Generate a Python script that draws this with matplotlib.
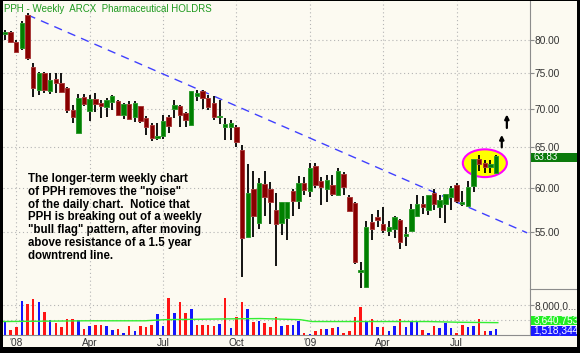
import matplotlib
matplotlib.use('Agg')
import matplotlib.pyplot as plt
import numpy as np
import pandas as pd
from matplotlib.patches import Ellipse, Rectangle
from matplotlib.ticker import FixedLocator, NullLocator, NullFormatter

plt.rcParams['font.family'] = ['Liberation Sans', 'DejaVu Sans']

# ---------------- data ----------------
week_start = pd.date_range('2007-12-17', periods=88, freq='7D')

opens = [81.0, 81.3, 79.7, 78.8, 84.0, 75.9, 72.6, 75.0, 72.4, 74.2,
         73.5, 72.9, 69.8, 66.8, 71.6, 69.7, 71.3, 70.7, 70.2, 70.9,
         71.0, 69.1, 70.6, 68.8, 70.3, 68.7, 67.8, 66.1, 66.3, 68.9,
         69.9, 70.4, 69.4, 67.8, 71.7, 72.4, 71.4, 70.7, 68.8, 67.5,
         67.5, 67.5, 64.6, 54.5, 59.9, 56.0, 60.4, 59.9, 57.5, 56.0,
         56.6, 59.6, 58.5, 60.5, 59.6, 62.6, 60.8, 59.8, 60.3, 59.1,
         61.6, 58.9, 58.2, 50.9, 49.5, 56.1, 56.7, 55.9, 55.2, 55.4,
         56.3, 54.6, 55.1, 56.8, 58.1, 57.4, 59.4, 57.8, 58.1, 58.9,
         60.3, 58.1, 57.9, 60.2, 63.4, 63.0, 62.5, 61.8]
highs = [81.6, 81.4, 80.0, 83.0, 84.3, 76.5, 75.2, 75.2, 75.0, 75.0,
         75.0, 73.0, 70.5, 72.0, 72.0, 71.8, 72.2, 71.2, 71.5, 71.8,
         71.2, 70.8, 71.0, 71.0, 70.4, 69.0, 68.0, 68.0, 69.1, 69.1,
         71.2, 70.5, 69.5, 72.4, 72.6, 72.6, 71.8, 71.7, 71.2, 68.7,
         68.5, 67.8, 65.2, 62.8, 62.0, 61.1, 62.0, 60.7, 59.4, 58.4,
         58.4, 59.9, 61.4, 61.3, 63.0, 62.9, 61.3, 61.5, 61.5, 62.3,
         61.9, 59.2, 58.4, 51.9, 56.2, 57.0, 57.5, 57.8, 56.2, 56.8,
         56.5, 55.6, 58.1, 59.1, 59.0, 59.2, 59.8, 59.2, 59.3, 60.2,
         60.5, 59.6, 60.8, 63.5, 64.0, 63.3, 63.3, 64.0]
lows = [80.0, 79.5, 78.0, 78.5, 77.0, 71.6, 71.9, 72.2, 72.0, 72.2,
        72.2, 69.4, 68.1, 66.7, 70.4, 68.3, 69.5, 68.7, 68.9, 69.8,
        69.0, 68.6, 68.5, 68.2, 68.1, 66.5, 65.7, 65.9, 66.0, 66.8,
        68.7, 67.5, 67.5, 67.6, 71.0, 70.0, 69.8, 68.5, 67.9, 65.9,
        65.9, 64.9, 50.4, 54.4, 54.5, 55.4, 56.8, 55.9, 51.5, 54.7,
        54.2, 56.8, 57.6, 59.1, 58.9, 60.0, 58.0, 58.4, 59.0, 59.0,
        59.1, 57.2, 51.7, 49.4, 49.4, 54.2, 55.6, 54.9, 54.6, 54.4,
        53.2, 53.6, 55.0, 56.7, 57.0, 56.9, 57.5, 56.6, 56.0, 57.5,
        58.2, 57.9, 57.8, 59.5, 62.0, 61.7, 61.8, 61.7]
closes = [81.3, 79.7, 78.2, 82.7, 77.3, 72.9, 75.0, 72.6, 74.0, 73.5,
          72.3, 69.8, 68.9, 71.4, 70.6, 71.3, 70.6, 70.3, 71.2, 71.7,
          69.1, 70.6, 68.6, 70.7, 68.3, 67.5, 66.1, 66.4, 68.3, 67.6,
          70.5, 69.1, 68.4, 72.4, 72.2, 71.4, 70.2, 68.8, 69.0, 67.9,
          68.0, 65.6, 54.4, 59.4, 56.8, 60.5, 58.9, 58.3, 55.9, 58.4,
          58.3, 58.5, 60.5, 59.7, 62.3, 60.3, 60.1, 60.9, 59.3, 62.0,
          60.1, 57.3, 51.9, 51.1, 55.6, 55.4, 56.3, 55.3, 55.6, 56.7,
          54.0, 54.8, 57.6, 58.1, 57.8, 59.1, 58.1, 58.6, 59.3, 60.0,
          58.5, 58.3, 60.1, 63.5, 62.8, 62.5, 62.8, 63.83]
volumes_m = [3.8, 1.3, 2.1, 9.1, 8.2, 9.6, 8.8, 6.1, 4.1, 3.1,
             2.1, 4.4, 4.4, 4.1, 1.6, 2.4, 2.8, 2.7, 2.4, 1.3,
             1.6, 0.6, 2.4, 1.0, 2.4, 2.1, 2.7, 5.6, 2.4, 9.9,
             5.8, 8.8, 5.8, 6.9, 2.8, 2.8, 2.8, 2.4, 3.0, 9.9,
             1.8, 4.7, 8.8, 6.9, 3.6, 3.8, 3.3, 2.1, 4.9, 2.4,
             2.7, 2.8, 3.8, 0.6, 0.4, 1.0, 1.6, 1.6, 1.8, 2.1,
             0.6, 1.0, 4.9, 7.4, 3.6, 4.4, 2.1, 2.1, 1.0, 2.4,
             4.4, 2.1, 3.6, 3.8, 1.3, 0.6, 2.4, 1.8, 3.3, 1.9,
             0.6, 2.8, 2.1, 2.4, 4.3, 1.0, 1.0, 1.5]
ma_week = [-0.4, 14.2, 24.8, 28.3, 39.0, 45.2, 52.3, 54.4, 63.8, 74.9, 80.6, 87.3]
ma_vol_m = [3.6, 3.8, 3.8, 4.1, 4.3, 4.4, 4.1, 3.6, 3.6, 3.6, 3.4, 3.3]

trend_week = [4.0, 92.5]
trend_price = [84.0, 54.95]

price_ticks = [55, 60, 65, 70, 75, 80]
quarter_starts = ['2008-01-01', '2008-04-01', '2008-07-01', '2008-10-01',
                  '2009-01-01', '2009-04-01', '2009-07-01']
quarter_labels = ["'08", 'Apr', 'Jul', 'Oct', "'09", 'Apr', 'Jul']

title = 'PPH - Weekly  ARCX  Pharmaceutical HOLDRS'
note_lines = ['The longer-term weekly chart',
              'of PPH removes the "noise"',
              'of the daily chart.  Notice that',
              'PPH is breaking out of a weekly',
              '"bull flag" pattern, after moving',
              'above resistance of a 1.5 year',
              'downtrend line.']

# ---------------- layout ----------------
W, H = 580, 353
bg = '#fcfaf1'
grid_c = '#b4b4b4'
axis_c = '#8c8c8c'
txt_c = '#333333'
fig = plt.figure(figsize=(W / 100, H / 100), dpi=100)
fig.patch.set_facecolor(bg)


def fx(px):
    return px / W


def fy(py):
    return 1 - py / H


ax = fig.add_axes([fx(3), fy(289), fx(530) - fx(3), fy(1) - fy(289)])
axv = fig.add_axes([fx(3), fy(335), fx(530) - fx(3), fy(289) - fy(335)], sharex=ax)
for a in (ax, axv):
    a.set_facecolor(bg)
    for s in ('left', 'top'):
        a.spines[s].set_visible(False)
    a.spines['right'].set_color(axis_c)
    a.spines['right'].set_linewidth(0.8)
ax.spines['bottom'].set_visible(False)
axv.spines['bottom'].set_color(axis_c)
axv.spines['bottom'].set_linewidth(0.8)

idx = np.arange(len(closes))
opens_a = np.array(opens)
closes_a = np.array(closes)
up = closes_a >= opens_a

# quarter tick positions: the week containing the first day of each quarter
qpos = []
for d in quarter_starts:
    d = pd.Timestamp(d)
    k = int(np.searchsorted(week_start, d, side='right') - 1)
    qpos.append(k)

ax.set_yscale('log')
ax.set_ylim(49.26, 86.3)
ax.set_xlim(-0.35, 93.0)
ax.yaxis.set_major_locator(FixedLocator(price_ticks))
ax.yaxis.set_minor_locator(NullLocator())
ax.yaxis.set_minor_formatter(NullFormatter())
ax.set_yticklabels([f'{v:.2f}' for v in price_ticks])
ax.yaxis.tick_right()
ax.tick_params(axis='y', length=3, width=0.8, color=axis_c, pad=0.5,
               labelsize=7.3, labelcolor=txt_c)
ax.xaxis.set_major_locator(FixedLocator(qpos))
ax.tick_params(axis='x', length=0, labelbottom=False)
ax.grid(True, color=grid_c, lw=0.8, ls=(0, (1, 2.5)))

# ellipse highlight (beneath candles)
ell = Ellipse((85.0, 62.95), 7.8, 3.4, facecolor='#ffff00', edgecolor='#ff00ff',
              lw=1.5, zorder=2)
ax.add_patch(ell)

# trendline
ax.plot(trend_week, trend_price, color='#4040ff', lw=1.0, ls=(0, (6, 4.5)), zorder=3)

# candles
ax.vlines(idx, lows, highs, color='black', lw=1.3, zorder=4)
body_lo = np.minimum(opens_a, closes_a)
body_h = np.abs(closes_a - opens_a)
cols = np.where(up, '#008000', '#880000')
ecols = np.where(up, '#2f9a2f', '#a83a3a')
ax.bar(idx, body_h, bottom=body_lo, width=0.78, color=cols, edgecolor=ecols,
       lw=0.7, zorder=5)

# arrows
ax.annotate('', xy=(88.0, 66.5), xytext=(88.0, 64.9),
            arrowprops=dict(arrowstyle='-|>', color='black', lw=1.6, mutation_scale=6,
                            shrinkA=0, shrinkB=0), zorder=6)
ax.annotate('', xy=(88.9, 69.2), xytext=(88.9, 67.4),
            arrowprops=dict(arrowstyle='-|>', color='black', lw=1.6, mutation_scale=6,
                            shrinkA=0, shrinkB=0), zorder=6)

# title and note
fig.text(fx(4), fy(9), title, color='#1f9a1f', fontsize=7.0, va='center', ha='left')
for k, line in enumerate(note_lines):
    fig.text(fx(28), fy(179 + 12.8 * k), line, color='black', fontsize=8.3,
             fontweight='bold', va='center', ha='left')

# ---------------- volume ----------------
prev = np.concatenate([[opens_a[0]], closes_a[:-1]])
vcols = np.where(closes_a >= prev, '#1414ff', '#ff1414')
axv.bar(idx, volumes_m, width=0.45, color=vcols, zorder=3)
axv.plot(ma_week, ma_vol_m, color='#33ee33', lw=1.0, zorder=4)
axv.set_ylim(0, 12.3)
axv.yaxis.set_major_locator(FixedLocator([4, 8]))
axv.yaxis.tick_right()
axv.set_yticklabels(['', '8,000,0...'])
axv.tick_params(axis='y', length=3, width=0.8, color=axis_c, pad=0.5,
                labelsize=7.3, labelcolor=txt_c)
axv.grid(True, color=grid_c, lw=0.8, ls=(0, (1, 2.5)))
axv.xaxis.set_major_locator(FixedLocator(qpos))
axv.set_xticklabels(quarter_labels)
axv.tick_params(axis='x', length=0, pad=2, labelsize=7.3, labelcolor=txt_c)

fig.canvas.draw()


def box_label(axis, value, text, fc, hpx=9.6, dy=0.0, fs=7.3):
    ypix = axis.transData.transform((0, value))[1] - dy
    yc = ypix / H
    fig.patches.append(Rectangle((fx(530.5), yc - hpx / 2 / H), fx(47), hpx / H,
                                 transform=fig.transFigure, facecolor=fc,
                                 edgecolor='none', zorder=10))
    fig.text(fx(533.5), yc, text, color='white', fontsize=fs, va='center',
             ha='left', zorder=11)


box_label(ax, closes[-1], f'{closes[-1]:.2f}', '#0b7a0b', dy=1.5, fs=7.0)
box_label(axv, ma_vol_m[-1] + 0.6, '3,640,753', '#22ee22')
box_label(axv, volumes_m[-1] - 0.4, '1,518,344', '#1a1aff')

# separator in the right axis area
fig.add_artist(plt.Line2D([fx(530), fx(577)], [fy(289), fy(289)], color=axis_c, lw=0.8))

# black frame
for r in [(0, 0, fx(3), 1), (fx(577), 0, fx(3), 1), (0, 0, 1, 6 / H), (0, 1 - 1 / H, 1, 1 / H)]:
    fig.patches.append(Rectangle(r[:2], r[2], r[3], transform=fig.transFigure,
                                 facecolor='black', edgecolor='none', zorder=20))

fig.savefig('out.png', dpi=100, facecolor=bg)
